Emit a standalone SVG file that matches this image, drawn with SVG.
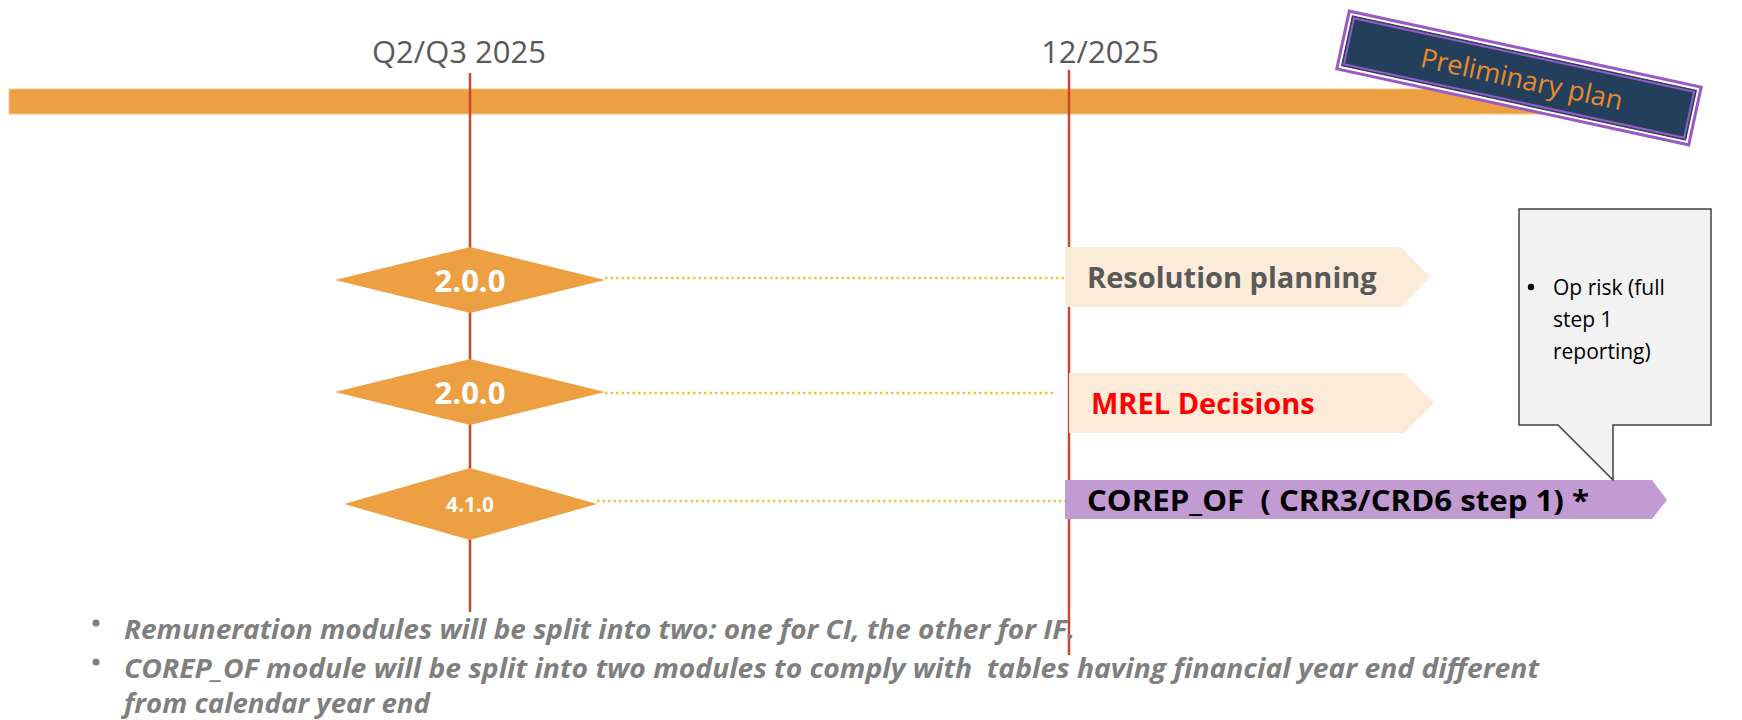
<svg xmlns="http://www.w3.org/2000/svg" width="1742" height="720" viewBox="0 0 1742 720">
<style>
.f{font-family:"Open Sans","Noto Sans","DejaVu Sans",sans-serif}
.vline{stroke:#C9472F;stroke-width:2.5;fill:none}
.dot{stroke:#F0C53A;stroke-width:2.5;stroke-dasharray:2.5 3;fill:none}
.dia{fill:#EDA042}
.dtxt{fill:#FFFFFF;font-weight:700;text-anchor:middle}
.peach{fill:#FBEBD8}
.lbl{fill:#595959;font-size:31px}
.btxt{font-weight:700;font-size:29px}
.note{fill:#7F7F7F;font-weight:700;font-style:italic;font-size:26px}
.ct{font-size:21px;fill:#000000}
</style>
<rect x="0" y="0" width="1742" height="720" fill="#FFFFFF"/>

<g id="timeline">
<rect x="9" y="89" width="1591" height="25" fill="#EDA042" stroke="#F5C98A" stroke-width="1"/>
</g>

<g id="connectors">
<line class="vline" x1="470" y1="73" x2="470" y2="612"/>
<line class="vline" x1="1069" y1="70" x2="1069" y2="655"/>
<line class="dot" x1="605" y1="278" x2="1064" y2="278"/>
<line class="dot" x1="605" y1="393" x2="1055" y2="393"/>
<line class="dot" x1="597" y1="501" x2="1065" y2="501"/>
</g>

<g id="label-q2q3">
<text class="f lbl" x="459" y="63" text-anchor="middle">Q2/Q3 2025</text>
</g>
<g id="label-1225">
<text class="f lbl" x="1100" y="63" text-anchor="middle">12/2025</text>
</g>

<g id="diamond-1">
<polygon class="dia" points="335,280 470,247 605,280 470,313"/>
<text class="f dtxt" x="470" y="292" font-size="31">2.0.0</text>
</g>
<g id="diamond-2">
<polygon class="dia" points="335,392 470,359 605,392 470,425"/>
<text class="f dtxt" x="470" y="404" font-size="31">2.0.0</text>
</g>
<g id="diamond-3">
<polygon class="dia" points="344,504 470,468 597,504 470,540"/>
<text class="f dtxt" x="470" y="512" font-size="21">4.1.0</text>
</g>

<g id="box-resolution">
<polygon class="peach" points="1065,247 1401,247 1430,277 1401,307 1065,307"/>
<text class="f btxt" x="1087" y="288" fill="#595959">Resolution planning</text>
</g>
<g id="box-mrel">
<polygon class="peach" points="1069,373 1404,373 1434,403 1404,433 1069,433"/>
<text class="f btxt" x="1091" y="414" fill="#FF0000">MREL Decisions</text>
</g>
<g id="box-corep">
<polygon fill="#C39BD3" points="1065,480 1652,480 1667,500 1652,519 1065,519"/>
<text class="f" x="1087" y="511" font-size="28" font-weight="700" fill="#000000" xml:space="preserve" textLength="502" lengthAdjust="spacingAndGlyphs">COREP_OF  ( CRR3/CRD6 step 1) *</text>
</g>

<g id="callout">
<path d="M1519,209 L1711,209 L1711,425 L1613,425 L1613,480 L1558,425 L1519,425 Z" fill="#F2F2F2" stroke="#404040" stroke-width="1.5"/>
<circle cx="1531" cy="287" r="3.2" fill="#000000"/>
<text class="f ct" x="1553" y="295">Op risk (full</text>
<text class="f ct" x="1553" y="327">step 1</text>
<text class="f ct" x="1553" y="359">reporting)</text>
</g>

<g id="badge" transform="translate(1519,78) rotate(12.2)">
<rect x="-180" y="-29.5" width="360" height="59" fill="#FFFFFF" stroke="#9B59C6" stroke-width="3"/>
<rect x="-176" y="-25.5" width="352" height="51" fill="#243F5C" stroke="#243F5C" stroke-width="1"/>
<rect x="-174" y="-23.5" width="348" height="47" fill="none" stroke="#9B59C6" stroke-width="2"/>
<text class="f" x="3" y="10" font-size="27" fill="#E98B2D" text-anchor="middle">Preliminary plan</text>
</g>

<g id="notes">
<circle cx="96" cy="623" r="3.5" fill="#7F7F7F"/>
<text class="f note" x="124" y="639" textLength="951" lengthAdjust="spacingAndGlyphs">Remuneration modules will be split into two: one for CI, the other for IF.</text>
<circle cx="96" cy="662" r="3.5" fill="#7F7F7F"/>
<text class="f note" x="124" y="678" xml:space="preserve" textLength="1415" lengthAdjust="spacingAndGlyphs">COREP_OF module will be split into two modules to comply with  tables having financial year end different</text>
<text class="f note" x="124" y="713" textLength="306" lengthAdjust="spacingAndGlyphs">from calendar year end</text>
</g>
</svg>
